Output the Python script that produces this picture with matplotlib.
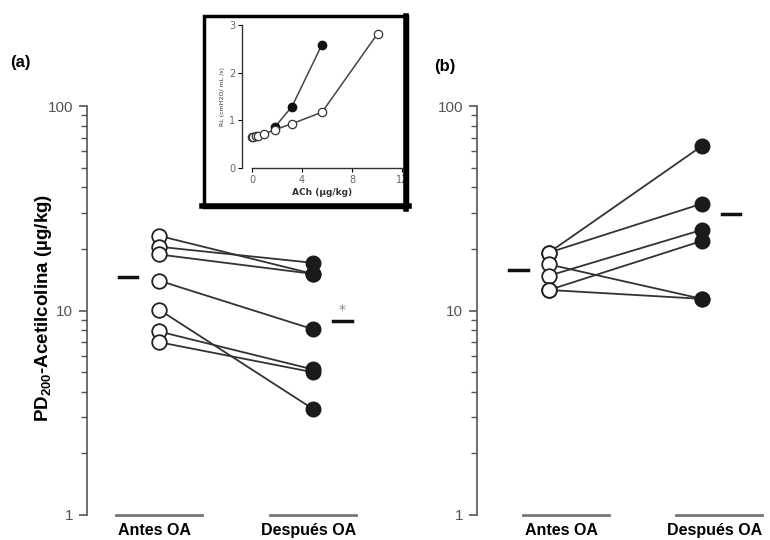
import numpy as np
import matplotlib as mpl
from matplotlib import pyplot as plt
from matplotlib.patches import Rectangle
from matplotlib.lines import Line2D

# panel (a): pares antes -> después
a_antes = [23.2, 20.5, 18.8, 14.0, 10.1, 7.9, 7.0]
a_despues = [15.1, 17.1, 15.1, 8.1, 3.3, 5.15, 4.99]
a_media = [14.6, 8.9]

# panel (b)
b_antes = [19.2, 19.2, 16.8, 14.8, 12.6, 12.6]
b_despues = [63.8, 33.3, 11.4, 24.8, 21.9, 11.4]
b_media = [15.8, 29.7]

grupos = ["Antes OA", "Después OA"]

# inset: curva dosis-respuesta
ins_x_open = [0, 0.1, 0.3, 0.5, 0.95, 1.8, 3.2, 5.6, 10.05]
ins_y_open = [0.66, 0.66, 0.67, 0.68, 0.71, 0.80, 0.93, 1.17, 2.82]
ins_x_fill = [1.8, 3.2, 5.6]
ins_y_fill = [0.85, 1.29, 2.59]

W, H = 770, 540
fig = plt.figure(figsize=(W / 100, H / 100), dpi=100)

tick_font = ['Liberation Sans', 'DejaVu Sans']
grey = '#555555'


def px_axes(x0, y_top, x1, y_bot):
    return fig.add_axes([x0 / W, 1 - y_bot / H, (x1 - x0) / W, (y_bot - y_top) / H])


def panel(ax, antes, despues, media, scale, x0px, cat_px, line_off):
    ax.set_yscale('log')
    ax.set_ylim(1, 100)
    left = (x0px - cat_px) / scale
    ax.set_xlim(left, left + 300 / scale)
    for s in ['top', 'right', 'bottom']:
        ax.spines[s].set_visible(False)
    ax.spines['left'].set_color(grey)
    ax.spines['left'].set_linewidth(1.2)
    ax.set_xticks([])
    ax.set_yticks([1, 10, 100])
    ax.set_yticklabels(['1', '10', '100'])
    ax.tick_params(axis='y', which='major', length=6, width=1.2, color=grey,
                   labelcolor=grey, labelsize=11, pad=4)
    ax.tick_params(axis='y', which='minor', length=4, width=1.0, color=grey)
    for lbl in ax.get_yticklabels():
        lbl.set_family(tick_font)
    for y0, y1 in zip(antes, despues):
        ax.plot([0, 1], [y0, y1], color='#333333', lw=1.3, zorder=2)
    ax.plot(np.zeros(len(antes)), antes, 'o', ms=10.5, mfc='white', mec='#222222',
            mew=1.3, zorder=3, ls='none')
    ax.plot(np.ones(len(despues)), despues, 'o', ms=10.5, mfc='#1a1a1a', mec='#1a1a1a',
            zorder=3, ls='none')
    ax.plot([-0.26, -0.14], [media[0]] * 2, color='#111111', lw=2.5)
    ax.plot([1.13, 1.25], [media[1]] * 2, color='#111111', lw=2.5)
    for i, g in enumerate(grupos):
        ax.plot([i + line_off - 0.28, i + line_off + 0.28], [1, 1], color='#777777',
                lw=2, clip_on=False)
        ax.text(i + line_off - 0.03, 0.91, g, ha='center', va='top', fontsize=11.5,
                fontweight='bold', family=tick_font, transform=ax.transData)


ax_a = px_axes(87, 106, 387, 515)
panel(ax_a, a_antes, a_despues, a_media, 154, 87, 159, 0.0)
ax_a.text(1.19, 9.3, '*', color='#888888', fontsize=10, ha='center', va='bottom')

ax_b = px_axes(477, 106, 777, 515)
panel(ax_b, b_antes, b_despues, b_media, 153, 477, 549, 0.11)

fig.text(10 / W, 1 - 63 / H, '(a)', fontsize=12, fontweight='bold', va='center',
         family=tick_font)
fig.text(434 / W, 1 - 66 / H, '(b)', fontsize=12, fontweight='bold', va='center',
         family=tick_font)
fig.text(44 / W, 1 - 308 / H, r'PD$_{\mathregular{200}}$-Acetilcolina (µg/kg)',
         rotation=90, fontsize=13.5, fontweight='bold', ha='center', va='center',
         family=tick_font)

# inset
axi = px_axes(242, 25, 402, 168)
axi.set_xlim(-0.8, 12)
axi.set_ylim(0, 3)
for s in ['top', 'right']:
    axi.spines[s].set_visible(False)
axi.spines['bottom'].set_bounds(0, 12)
for s in ['left', 'bottom']:
    axi.spines[s].set_color('#333333')
    axi.spines[s].set_linewidth(1.0)
axi.set_xticks([0, 4, 8, 12])
axi.set_yticks([0, 1, 2, 3])
axi.tick_params(length=3, width=0.8, labelsize=7, labelcolor='#666666', pad=2)
axi.plot(ins_x_open, ins_y_open, '-o', color='#444444', lw=1.1, ms=6, mfc='white',
         mec='#333333', mew=0.9, zorder=3)
axi.plot(ins_x_fill, ins_y_fill, '-o', color='#444444', lw=1.1, ms=6, mfc='#111111',
         mec='#111111', zorder=2)
axi.set_xlabel('ACh (µg/kg)', fontsize=6.5, labelpad=2, fontweight='bold', color='#333333')
axi.set_ylabel('RL (cmH2O/ mL /s)', fontsize=4.5, labelpad=3, color='#333333')

fig.patches.append(Rectangle((203.5 / W, 1 - 207 / H), 203 / W, 191 / H,
                             transform=fig.transFigure, fill=False, ec='black', lw=2.5,
                             zorder=5))
fig.lines.append(Line2D([406 / W, 406 / W], [1 - 209 / H, 1 - 16 / H], color='black',
                        lw=4, transform=fig.transFigure, zorder=5))
fig.lines.append(Line2D([202 / W, 409 / W], [1 - 206 / H, 1 - 206 / H], color='black',
                        lw=4, transform=fig.transFigure, zorder=5))

fig.savefig('out.png', dpi=100, facecolor='white')
